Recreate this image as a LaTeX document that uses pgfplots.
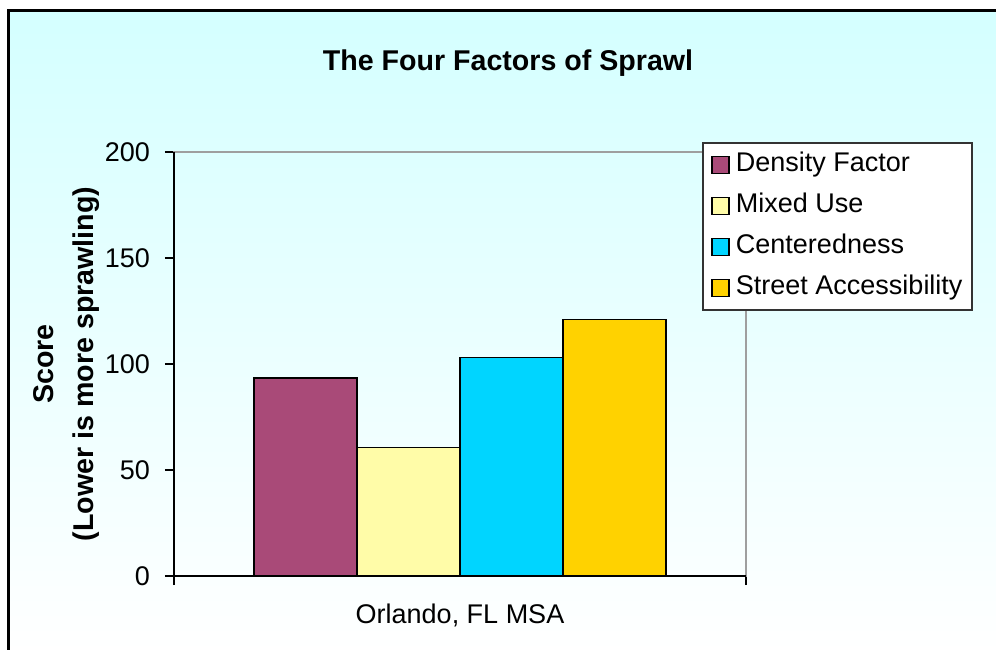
\documentclass[border=0pt]{standalone}
\usepackage{pgfplots}
\pgfplotsset{compat=1.18}
\usepackage{fontspec}
\setmainfont{Liberation Sans}
\definecolor{cDens}{RGB}{169,74,120}
\definecolor{cMix}{RGB}{255,252,168}
\definecolor{cCen}{RGB}{0,213,255}
\definecolor{cStr}{RGB}{255,210,0}
\definecolor{cBg}{RGB}{212,255,255}
\newcommand{\fs}{\fontsize{13.5}{16}\selectfont}
\newcommand{\fb}{\fontsize{14.3}{20}\selectfont\bfseries}
\pgfplotsset{sq/.style={draw=black, line width=0.75pt,
  legend image code/.code={\path[draw=none, fill=none] (0pt,0pt) -- (12pt,0pt);\draw[##1] (1.5pt,-4.25pt) rectangle (10pt,4.25pt);}}}
\begin{document}
\begin{tikzpicture}
\useasboundingbox (0,0) rectangle (498pt,324.5pt);
\begin{scope}
\clip (0,0) rectangle (498pt,324.5pt);
\shade[top color=cBg, bottom color=white] (4pt,-2pt) rectangle (510pt,319pt);
\draw[line width=1.5pt] (4pt,-5pt) -- (4pt,319pt) -- (510pt,319pt);
\end{scope}
\begin{axis}[
  at={(87pt,36.5pt)}, anchor=south west,
  scale only axis, width=286pt, height=212pt,
  xmin=-1, xmax=1, ymin=0, ymax=200,
  ybar=0pt, bar width=51.5pt,
  xtick={-1,1}, xticklabels={},
  ytick={0,50,100,150,200},
  tick align=outside, xtick pos=bottom, ytick pos=left,
  major tick length=4.5pt,
  tick style={black, line width=1pt},
  axis line style={draw=gray!75, line width=1pt},
  /pgf/number format/assume math mode=true,
  yticklabel style={font=\fs, xshift=-4pt},
  title={The Four Factors of Sprawl},
  title style={font=\fb, at={(axis description cs:0.584,1.182)}, anchor=center},
  xlabel={Orlando, FL MSA},
  xlabel style={font=\fs, at={(axis description cs:0.5,-0.092)}, anchor=center},
  ylabel={Score\\(Lower is more sprawling)},
  ylabel style={font=\fb, align=center, at={(axis description cs:-0.1885,0.5)}, anchor=center},
  legend style={at={(axis description cs:0.923,1.024)}, anchor=north west,
    draw=black!80, line width=1pt, fill=white, font=\fs,
    inner xsep=3pt, inner ysep=3pt, row sep=4.5pt,
    nodes={inner sep=1.5pt, text height=10pt, text depth=3pt}},
  legend cell align=left,
  after end axis/.code={\draw[black, line width=1pt] (rel axis cs:0,1) -- (rel axis cs:0,0) -- (rel axis cs:1,0);},
]
\addplot[fill=cDens, sq] coordinates {(0,93.5)};
\addplot[fill=cMix, sq] coordinates {(0,60.5)};
\addplot[fill=cCen, sq] coordinates {(0,103)};
\addplot[fill=cStr, sq] coordinates {(0,121)};
\legend{Density Factor, Mixed Use, Centeredness, Street Accessibility}
\end{axis}
\end{tikzpicture}
\end{document}
